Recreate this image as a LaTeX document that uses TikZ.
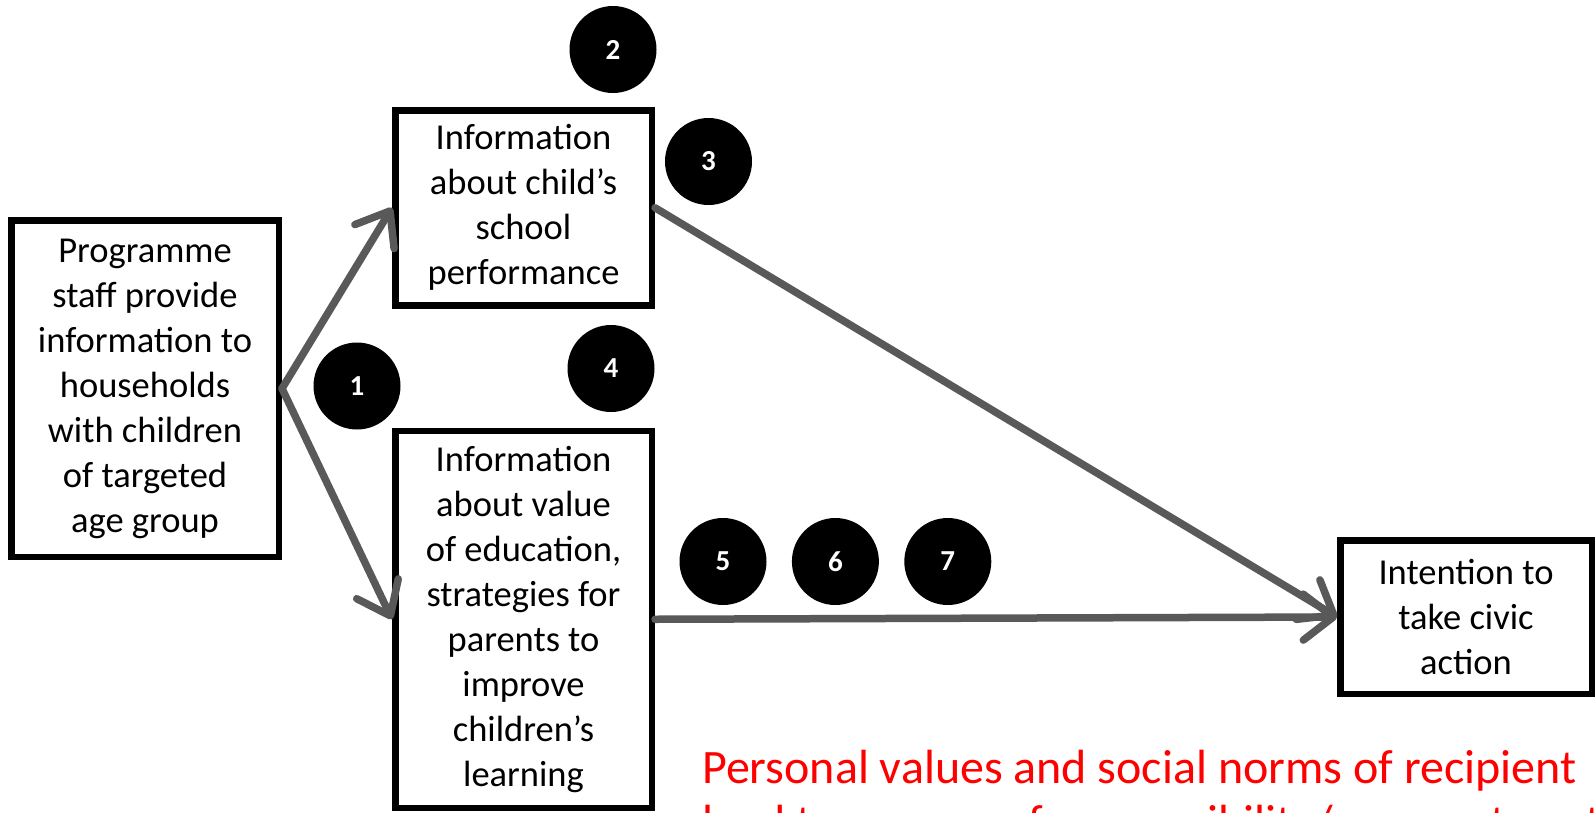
\documentclass[tikz,border=0pt]{standalone}
\usepackage{fontspec}
\setmainfont{Carlito}
\usetikzlibrary{positioning, arrows.meta}
\definecolor{arrowgrey}{HTML}{595959}

\begin{document}
\begin{tikzpicture}[x=1pt, y=-1pt, node distance=25pt,
  box/.style={draw, line width=6.5pt, align=center, inner sep=0pt,
    font=\fontsize{36.5}{45}\selectfont},
  num/.style={circle, fill=black, text=white, minimum size=87pt, inner sep=0pt,
    font=\fontsize{29}{32}\selectfont\bfseries},
  arr/.style={arrowgrey, line width=7.5pt, line cap=round,
    -{Straight Barb[length=30pt, width=46pt, round]}}]
  \useasboundingbox (0,0) rectangle (1596,812);

  \node[box, minimum width=267.5pt, minimum height=336.5pt] (staff) at (145,388.5)
    {Programme\\staff provide\\information to\\households\\with children\\of targeted\\age group};
  \node[box, minimum width=256.5pt, minimum height=195pt] (perf) at (523.5,207.75)
    {Information\\about child’s\\school\\performance};
  \node[box, minimum width=256.5pt, minimum height=377pt] (value) at (523.5,619.25)
    {Information\\about value\\of education,\\strategies for\\parents to\\improve\\children’s\\learning};
  \node[box, minimum width=251.5pt, minimum height=153.5pt] (civic) at (1466,617)
    {Intention to\\take civic\\action};

  \node[num] (n1) at (357,386) {1};
  \node[num] (n2) at (613,49.5) {2};
  \node[num] (n3) at (708.5,161.5) {3};
  \node[num] (n4) at (611,368.5) {4};
  \node[num] (n5) at (723,561.5) {5};
  \node[num, right = of n5] (n6) {6};
  \node[num, right = of n6] (n7) {7};

  \draw[arr] (staff.east) -- (perf.west);
  \draw[arr] (staff.east) -- (value.west);
  \draw[arr] (perf.east) -- (civic.west);
  \draw[arr] (value.east) -- (civic.west);

  % note, cut off by the page edge
  \node[anchor=base west, align=left, text=red, inner sep=0pt,
    font=\fontsize{48}{55.3}\selectfont] (note) at (702,838.6)
    {Personal values and social norms of recipient\\lead to a sense of responsibility/ agency to act};
\end{tikzpicture}
\end{document}
